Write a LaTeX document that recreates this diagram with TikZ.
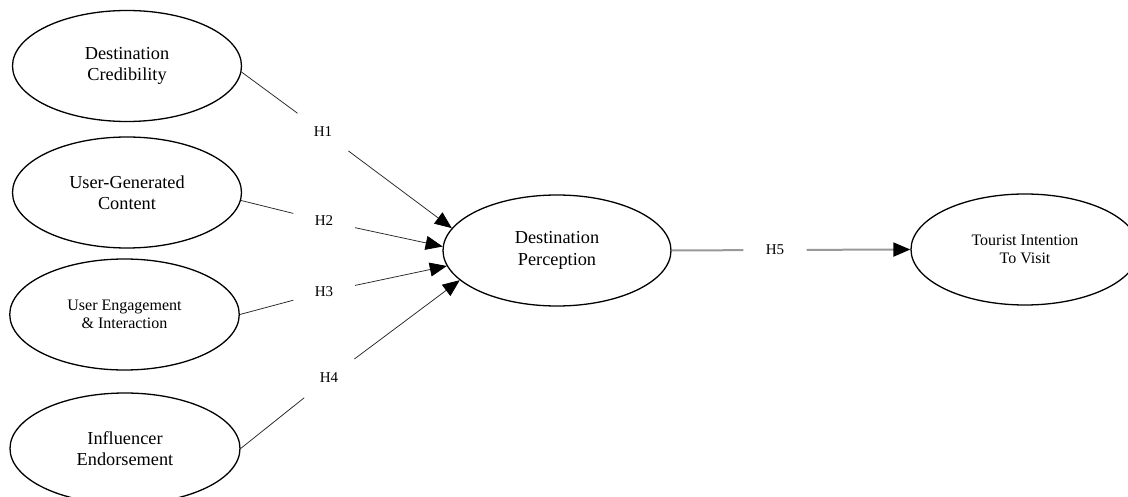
\documentclass[tikz,border=0pt]{standalone}
\usepackage{fontspec}
\setmainfont{Liberation Serif}
\usetikzlibrary{shapes.geometric,arrows.meta}
\tikzset{
  construct/.style={draw=black, line width=1.3pt, ellipse, minimum width=#1, minimum height=111pt, inner sep=0pt, align=center},
  construct/.default=229pt,
  big/.style={font=\fontsize{18.3}{21.5}\selectfont},
  small/.style={font=\fontsize{16}{18}\selectfont},
  hyp/.style={circle, minimum size=63pt, inner sep=0pt, font=\fontsize{15}{18}\selectfont},
  link/.style={draw=black!85, line width=0.75pt},
  arr/.style={-{Triangle[length=17pt,width=14pt,color=black]}},
  grayline/.style={draw=black!40, line width=2pt},
}
\begin{document}
\begin{tikzpicture}[x=1pt,y=-1pt]
\useasboundingbox (0,0) rectangle (1128,497);
\clip (0,0) rectangle (1128,497);
\node[construct, big] (dc) at (127,66) {Destination\\Credibility};
\node[construct, big] (ugc) at (127,192.5) {User-Generated\\Content};
\node[construct=229.5pt, small] (uei) at (124.5,314.5) {User Engagement\\\& Interaction};
\node[construct=230pt, big] (ie) at (125,448.5) {Influencer\\Endorsement};
\node[construct=228pt, big] (dp) at (557,250.5) {Destination\\Perception};
\node[construct=228pt, small] (ti) at (1025,249.5) {Tourist Intention\\To Visit};

\node[hyp] (h1) at (323,132) {H1};
\node[hyp] (h2) at (324,221) {H2};
\node[hyp] (h3) at (324,292) {H3};
\node[hyp] (h4) at (329,378) {H4};
\node[hyp] (h5) at (775,250) {H5};

\draw[link] (dc.-3) -- (h1);
\draw[link, arr] (h1) -- (dp.168);
\draw[link] (ugc.-4) -- (h2);
\draw[link, arr] (h2) -- (dp.178);
\draw[link] (uei.east) -- (h3);
\draw[link, arr] (h3) -- (dp.188);
\draw[link] (ie.east) -- (h4);
\draw[link, arr] (h4) -- (dp.197);
\draw[grayline] (dp.east) -- (h5);
\draw[grayline, arr] (h5) -- (ti.west);
\end{tikzpicture}
\end{document}
